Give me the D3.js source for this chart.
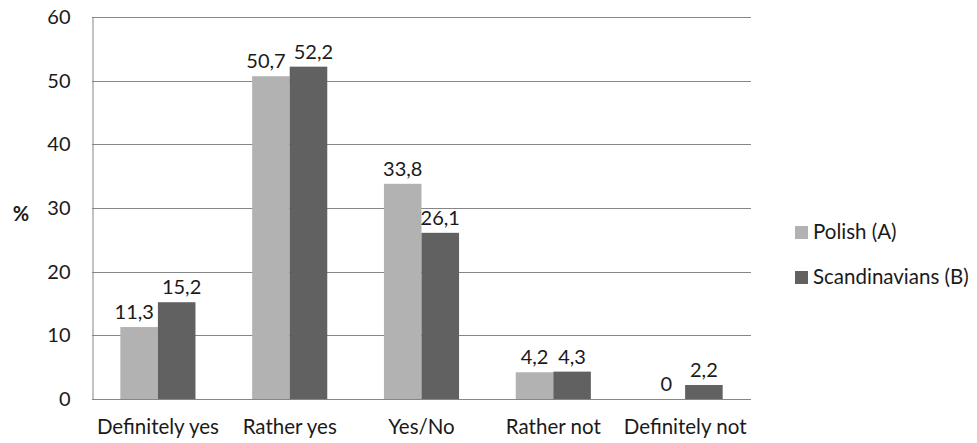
<!DOCTYPE html>
<html>
<head>
<meta charset="utf-8">
<script src="https://cdn.jsdelivr.net/npm/d3@7"></script>
<style>
  html, body { margin: 0; padding: 0; background: #fff; }
  svg { display: block; font-family: Lato, "Open Sans", sans-serif; }
</style>
</head>
<body>
<svg id="chart" width="977" height="443"></svg>
<script>
// Survey answers, share of respondents (%)
const categories = ["Definitely yes", "Rather yes", "Yes/No", "Rather not", "Definitely not"];
const seriesNames = ["Polish (A)", "Scandinavians (B)"];
const polish = [11.3, 50.7, 33.8, 4.2, 0];
const scandinavians = [15.2, 52.2, 26.1, 4.3, 2.2];
const yTicks = [0, 10, 20, 30, 40, 50, 60];
const colors = ["#b2b2b2", "#616161"];

const seriesValues = [polish, scandinavians];
const rows = categories.map((c, i) => ({
  category: c,
  values: seriesNames.map((s, k) => ({ series: s, k, value: seriesValues[k][i] }))
}));

const svg = d3.select("#chart");
const plot = { left: 92, right: 751, top: 17, bottom: 399 };

const y = d3.scaleLinear().domain([0, 60]).range([plot.bottom, plot.top]);
const gap = 0.43;
const x0 = d3.scaleBand().domain(categories).range([plot.left, plot.right])
  .paddingInner(gap).paddingOuter(gap / 2);
const x1 = d3.scaleBand().domain(seriesNames).range([0, x0.bandwidth()]);

// horizontal gridlines
svg.append("g")
  .selectAll("line")
  .data(yTicks.filter(t => t > 0))
  .join("line")
  .attr("x1", plot.left).attr("x2", plot.right)
  .attr("y1", d => Math.round(y(d)) + 0.5).attr("y2", d => Math.round(y(d)) + 0.5)
  .attr("stroke", "#868686").attr("stroke-width", 1);

// y axis
const yAxis = svg.append("g")
  .attr("transform", `translate(${plot.left + 0.5},0)`)
  .call(d3.axisLeft(y).tickValues(yTicks).tickSize(0).tickPadding(22).tickFormat(d3.format("d")));
yAxis.select(".domain").attr("stroke", "#868686");
yAxis.selectAll("text").attr("font-size", 20).attr("fill", "#1a1a1a").attr("font-family", "Lato, sans-serif");

// bars
const groups = svg.append("g")
  .selectAll("g")
  .data(rows)
  .join("g")
  .attr("transform", d => `translate(${x0(d.category)},0)`);

groups.selectAll("rect")
  .data(d => d.values)
  .join("rect")
  .attr("x", d => x1(d.series))
  .attr("width", x1.bandwidth())
  .attr("y", d => y(d.value))
  .attr("height", d => y(0) - y(d.value))
  .attr("fill", d => colors[d.k]);

// value labels
groups.each(function () {
  const labels = d3.select(this).selectAll("text")
    .data(d => d.values)
    .join("text")
    .attr("x", d => x1(d.series) + x1.bandwidth() / 2)
    .attr("y", d => y(d.value) - 8)
    .attr("text-anchor", "middle")
    .attr("font-size", 20)
    .attr("fill", "#1a1a1a")
    .text(d => d3.format(".1f")(d.value).replace(".", ",").replace(/^0,0$/, "0"));

  // push neighbouring labels apart when they would run into each other
  const nodes = labels.nodes();
  const [a, b] = nodes;
  const ax = +a.getAttribute("x"), bx = +b.getAttribute("x");
  const ay = +a.getAttribute("y"), by = +b.getAttribute("y");
  const aw = a.getComputedTextLength(), bw = b.getComputedTextLength();
  const deficit = (ax + aw / 2 + 8) - (bx - bw / 2);
  if (deficit > 0 && Math.abs(ay - by) < 28) {
    a.setAttribute("x", ax - deficit / 2);
    b.setAttribute("x", bx + deficit / 2);
  }
});

// x axis
const xAxis = svg.append("g")
  .attr("transform", `translate(0,${plot.bottom + 0.5})`)
  .call(d3.axisBottom(x0).tickSize(0).tickPadding(20).tickSizeOuter(0));
xAxis.select(".domain").attr("stroke", "#868686").attr("d", `M${plot.left},0H${plot.right}`);
xAxis.selectAll("text").attr("font-size", 20.5).attr("fill", "#1a1a1a").attr("font-family", "Lato, sans-serif");

// y axis title
svg.append("text")
  .attr("x", 21).attr("y", 221)
  .attr("text-anchor", "middle")
  .attr("font-size", 20).attr("font-weight", "bold").attr("fill", "#1a1a1a")
  .text("%");

// legend
const legend = svg.append("g")
  .selectAll("g")
  .data(seriesNames)
  .join("g")
  .attr("transform", (d, i) => `translate(795,${226 + i * 45})`);
legend.append("rect").attr("width", 13).attr("height", 13).attr("fill", (d, i) => colors[i]);
legend.append("text")
  .attr("x", 18).attr("y", 13)
  .attr("font-size", 20.5).attr("fill", "#1a1a1a")
  .text(d => d);
</script>
</body>
</html>
